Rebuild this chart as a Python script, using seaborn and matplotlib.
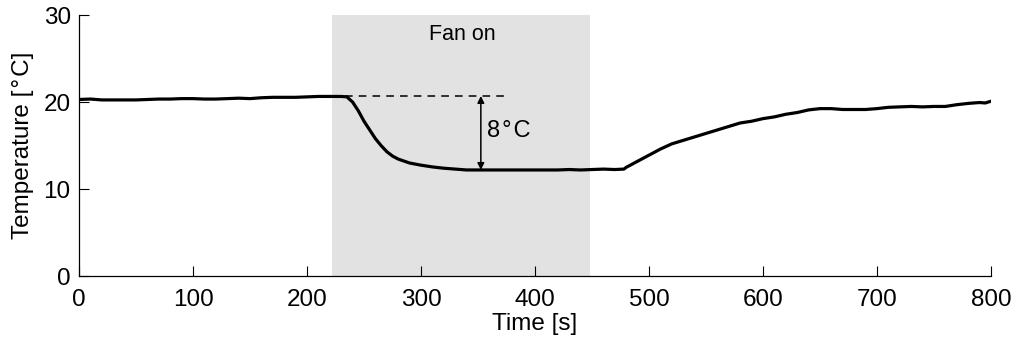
import numpy as np
import pandas as pd
import matplotlib
matplotlib.use("Agg")
import matplotlib.pyplot as plt
import seaborn as sns

time_s = [0, 10, 20, 30, 40, 50, 60, 70, 80, 90, 100, 110, 120, 130, 140, 150, 160, 170, 180, 190,
          200, 210, 220, 230, 235, 240, 245, 250, 255, 260, 265, 270, 275, 280, 290, 300, 310, 320,
          330, 340, 350, 360, 370, 380, 390, 400, 410, 420, 430, 440, 450, 460, 470, 478, 480, 490,
          500, 510, 520, 530, 540, 550, 560, 570, 580, 590, 600, 610, 620, 630, 640, 650, 660, 670,
          680, 690, 700, 710, 720, 730, 740, 750, 760, 770, 780, 790, 795, 800]
temperature = [20.3, 20.35, 20.25, 20.25, 20.25, 20.25, 20.3, 20.35, 20.35, 20.4, 20.4, 20.35, 20.35,
               20.4, 20.45, 20.4, 20.5, 20.55, 20.55, 20.55, 20.6, 20.65, 20.65, 20.65, 20.6, 20.0,
               19.0, 17.8, 16.8, 15.8, 15.0, 14.3, 13.8, 13.45, 13.0, 12.75, 12.55, 12.4, 12.3, 12.2,
               12.2, 12.2, 12.2, 12.2, 12.2, 12.2, 12.2, 12.2, 12.25, 12.2, 12.25, 12.3, 12.25, 12.3,
               12.5, 13.2, 13.9, 14.6, 15.2, 15.6, 16.0, 16.4, 16.8, 17.2, 17.6, 17.8, 18.1, 18.3,
               18.6, 18.8, 19.1, 19.25, 19.25, 19.15, 19.15, 19.15, 19.25, 19.4, 19.45, 19.5, 19.45,
               19.5, 19.5, 19.7, 19.85, 19.95, 19.9, 20.1]

fan_on = (222, 448)
baseline_temp = 20.7
cooled_temp = 12.2
drop_label = "8\u200a°\u200aC"

df = pd.DataFrame({"Time": time_s, "Temp": temperature})

sns.set_style("ticks")
plt.rcParams["font.family"] = ["Liberation Sans", "DejaVu Sans"]
plt.rcParams["text.color"] = "black"
plt.rcParams["axes.labelcolor"] = "black"
plt.rcParams["xtick.color"] = "black"
plt.rcParams["ytick.color"] = "black"
plt.rcParams["axes.edgecolor"] = "black"

fig = plt.figure(figsize=(10.2, 3.43), dpi=100)
ax = fig.add_axes([0.0775, 0.195, 0.894, 0.761])

ax.axvspan(fan_on[0], fan_on[1], color="#e2e2e2", lw=0, zorder=0)
sns.lineplot(data=df, x="Time", y="Temp", ax=ax, color="black", lw=2.3, zorder=3)

ax.plot([233, 376], [baseline_temp, baseline_temp], ls=(0, (5, 4)), color="black", lw=1.1)
ax.annotate("", xy=(352.5, cooled_temp), xytext=(352.5, baseline_temp),
            arrowprops=dict(arrowstyle="<|-|>", color="black", lw=1.1,
                            mutation_scale=10, shrinkA=0, shrinkB=0))
ax.text(358, 16.7, drop_label, fontsize=17, va="center", ha="left")
ax.text(336, 27.8, "Fan on", fontsize=15.5, va="center", ha="center")

ax.set_xlim(0, 800)
ax.set_ylim(0, 30)
ax.set_xticks(range(0, 801, 100))
ax.set_yticks([0, 10, 20, 30])
ax.set_xlabel("Time [s]", fontsize=17.5, labelpad=2)
ax.set_ylabel("Temperature [\u200a°\u200aC]", fontsize=17.5, labelpad=7)
ax.tick_params(direction="in", length=7, width=0.8, labelsize=17.5)
ax.tick_params(axis="x", pad=9)
ax.tick_params(axis="y", pad=6)
for s in ["top", "right"]:
    ax.spines[s].set_visible(False)
for s in ["left", "bottom"]:
    ax.spines[s].set_linewidth(0.9)

fig.savefig("out.png", dpi=100)
